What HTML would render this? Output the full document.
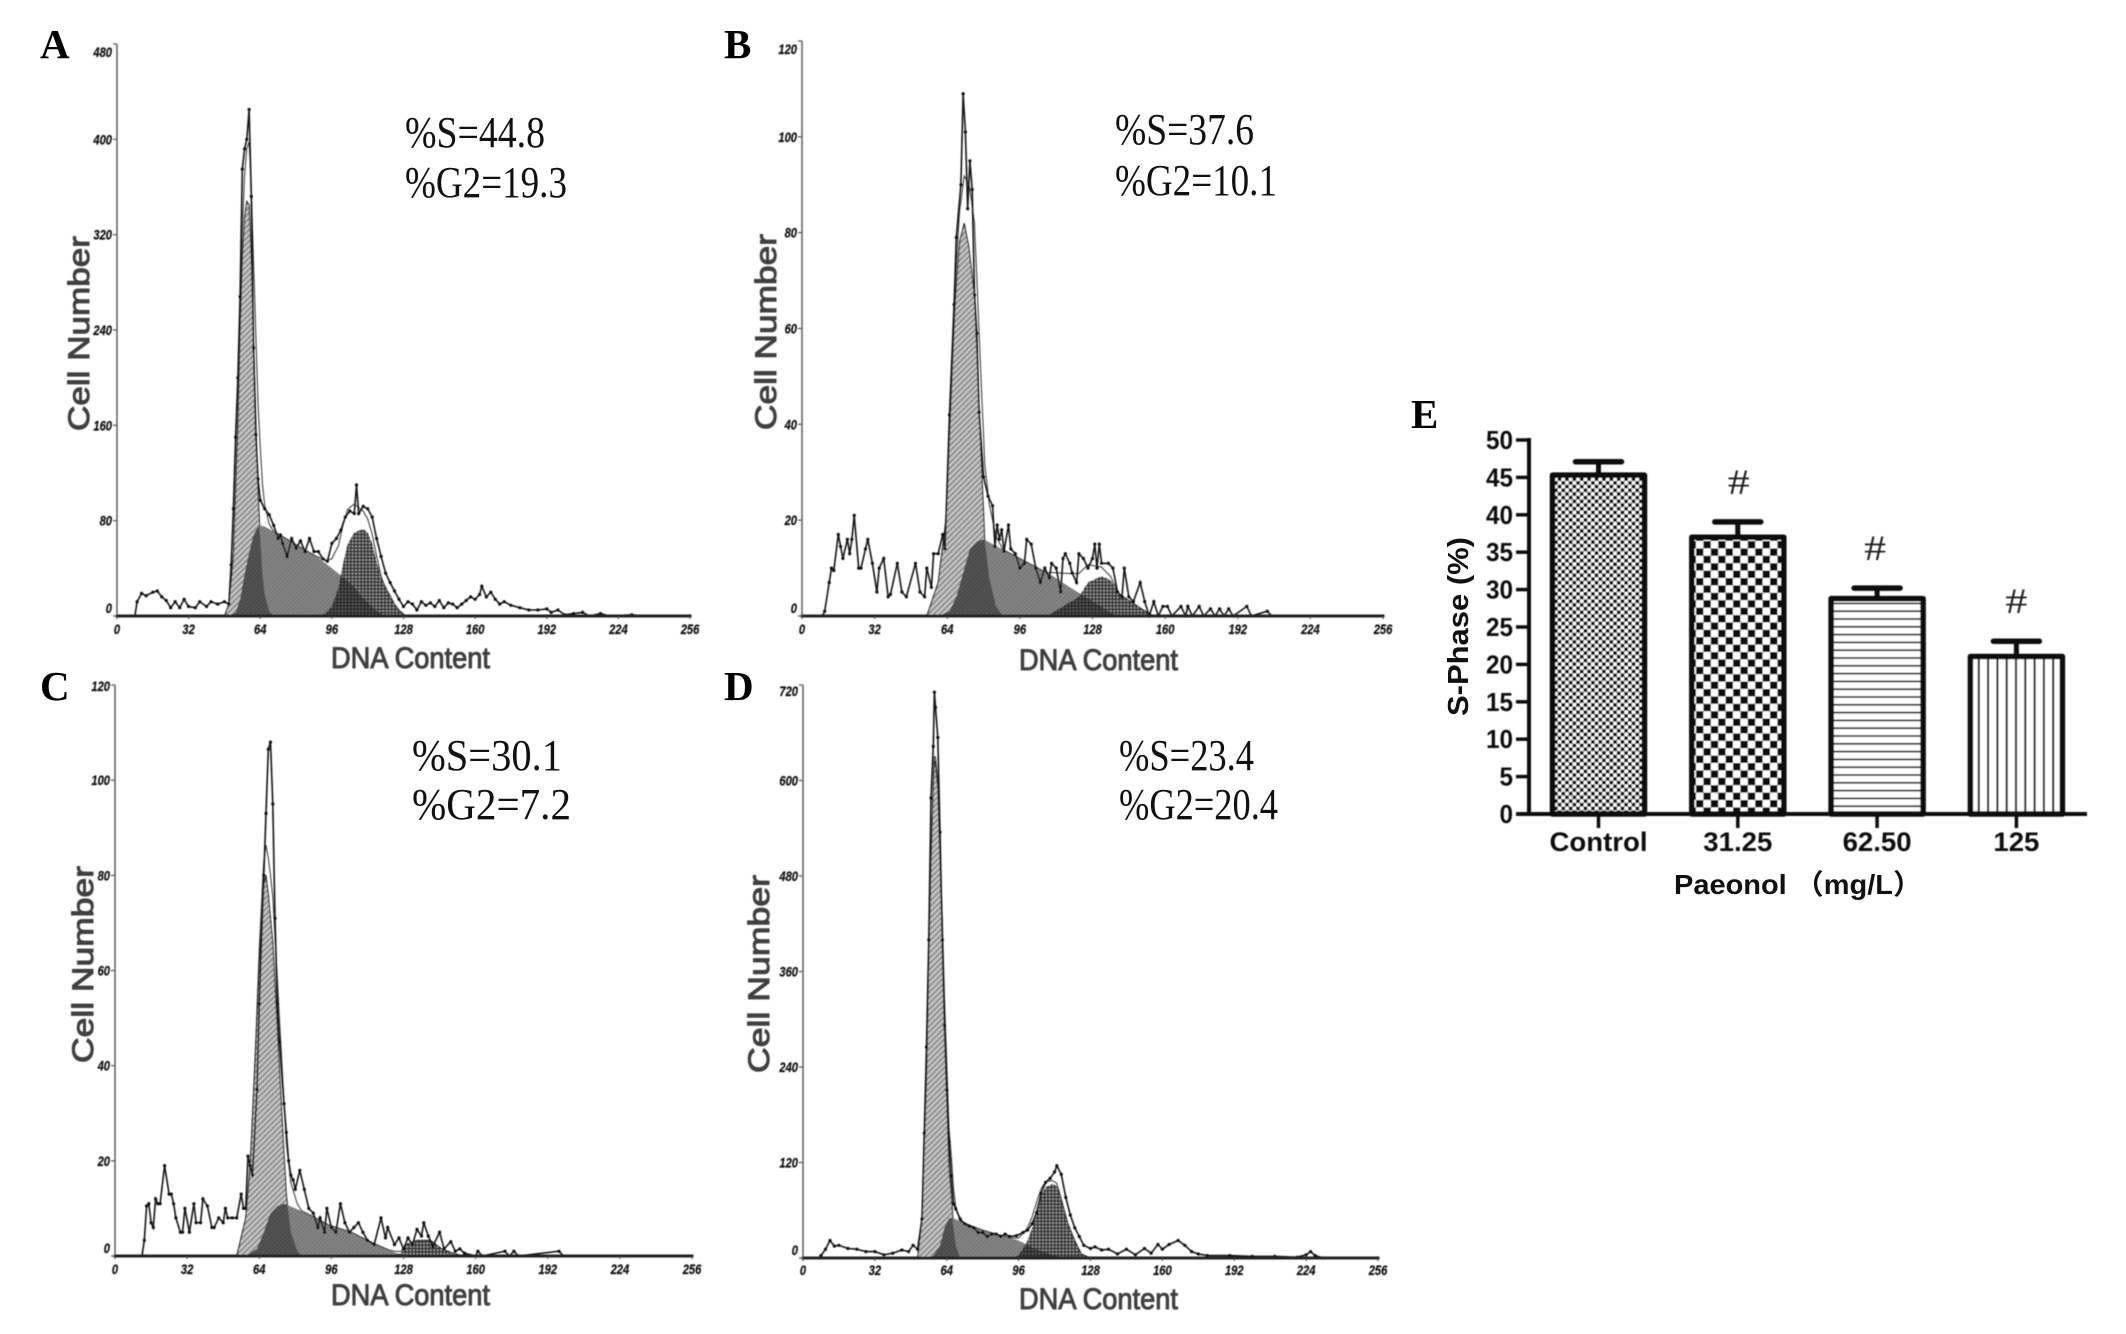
<!DOCTYPE html>
<html lang="en">
<head>
<meta charset="utf-8">
<title>Cell cycle histograms and S-phase bar chart</title>
<style>
html,body{margin:0;padding:0;background:#fff;}
svg{display:block;}
.serif{font-family:"Liberation Serif",serif;fill:#222;}
.letter{font-family:"Liberation Serif",serif;font-weight:bold;font-size:41px;fill:#000;}
.note{font-family:"Liberation Serif",serif;font-size:44px;fill:#111;}
.axis-title{font-family:"Liberation Sans",sans-serif;font-size:30px;fill:#3f3f3f;stroke:#3f3f3f;stroke-width:1px;}
.tick{font-family:"Liberation Sans",sans-serif;font-size:14px;font-weight:bold;font-style:italic;fill:#111;stroke:#111;stroke-width:.25px;}
.bar-text{font-family:"Liberation Sans","Noto Sans CJK SC",sans-serif;font-weight:bold;fill:#111;}
</style>
</head>
<body>
<svg id="figure" xmlns="http://www.w3.org/2000/svg" width="2126" height="1334" viewBox="0 0 2126 1334">
  <defs>
    <filter id="soft" x="-5%" y="-5%" width="110%" height="110%"><feGaussianBlur stdDeviation="0.55"/></filter>
    <filter id="softbar" x="-5%" y="-5%" width="110%" height="110%"><feGaussianBlur stdDeviation="0.4"/></filter>
    <pattern id="g1Fill" width="4" height="4" patternUnits="userSpaceOnUse" patternTransform="rotate(-45)">
      <rect width="4" height="4" fill="#949494"/><rect width="4" height="1.3" fill="#dcdcdc"/>
    </pattern>
    <pattern id="sFill" width="3" height="3" patternUnits="userSpaceOnUse" patternTransform="rotate(-45)">
      <rect width="3" height="3" fill="#777"/><rect width="3" height="1" fill="#8e8e8e"/>
    </pattern>
    <pattern id="g2Fill" width="3.4" height="3.4" patternUnits="userSpaceOnUse">
      <rect width="3.4" height="3.4" fill="#9a9a9a"/><rect width="3.4" height="1.4" fill="#2c2c2c"/><rect width="1.4" height="3.4" fill="#2c2c2c"/>
    </pattern>
    <pattern id="darkFill" width="3" height="3" patternUnits="userSpaceOnUse" patternTransform="rotate(-45)">
      <rect width="3" height="3" fill="#474747"/><rect width="3" height="1" fill="#5e5e5e"/>
    </pattern>
    <pattern id="darkGrid" width="3.4" height="3.4" patternUnits="userSpaceOnUse">
      <rect width="3.4" height="3.4" fill="#5a5a5a"/><rect width="3.4" height="1.3" fill="#222"/><rect width="1.3" height="3.4" fill="#222"/>
    </pattern>
    <pattern id="barFine" width="7.4" height="7.4" patternUnits="userSpaceOnUse">
      <rect width="7.4" height="7.4" fill="#fff"/><rect width="3.7" height="3.7" fill="#111"/><rect x="3.7" y="3.7" width="3.7" height="3.7" fill="#111"/>
    </pattern>
    <pattern id="barCheck" width="14.8" height="14.8" patternUnits="userSpaceOnUse" x="1696" y="541">
      <rect width="14.8" height="14.8" fill="#fff"/><rect x="7.4" width="7.4" height="7.4" fill="#111"/><rect y="7.4" width="7.4" height="7.4" fill="#111"/>
    </pattern>
    <pattern id="barHoriz" width="10" height="7.8" patternUnits="userSpaceOnUse" y="600">
      <rect width="10" height="7.8" fill="#fff"/><rect y="2.6" width="10" height="1.6" fill="#111"/>
    </pattern>
    <pattern id="barVert" width="9.3" height="10" patternUnits="userSpaceOnUse" x="1973">
      <rect width="9.3" height="10" fill="#fff"/><rect x="4.8" width="2" height="10" fill="#111"/>
    </pattern>
  </defs>

  <g id="histograms"></g>
  <g id="barchart" filter="url(#softbar)"></g>

  <text class="letter" x="40" y="58">A</text>
  <text class="letter" x="724" y="58">B</text>
  <text class="letter" x="40" y="700">C</text>
  <text class="letter" x="724" y="700">D</text>
  <text class="letter" x="1411" y="428">E</text>

  <text class="note" x="405" y="147" textLength="140" lengthAdjust="spacingAndGlyphs">%S=44.8</text>
  <text class="note" x="405" y="197" textLength="162" lengthAdjust="spacingAndGlyphs">%G2=19.3</text>
  <text class="note" x="1115" y="144" textLength="139" lengthAdjust="spacingAndGlyphs">%S=37.6</text>
  <text class="note" x="1115" y="195" textLength="162" lengthAdjust="spacingAndGlyphs">%G2=10.1</text>
  <text class="note" x="412" y="770" textLength="150" lengthAdjust="spacingAndGlyphs">%S=30.1</text>
  <text class="note" x="412" y="819" textLength="159" lengthAdjust="spacingAndGlyphs">%G2=7.2</text>
  <text class="note" x="1119" y="770" textLength="135" lengthAdjust="spacingAndGlyphs">%S=23.4</text>
  <text class="note" x="1119" y="819" textLength="159" lengthAdjust="spacingAndGlyphs">%G2=20.4</text>

  <g filter="url(#soft)">
    <text class="axis-title" transform="translate(89 431) rotate(-90)" textLength="195" lengthAdjust="spacingAndGlyphs">Cell Number</text>
    <text class="axis-title" transform="translate(776 430) rotate(-90)" textLength="196" lengthAdjust="spacingAndGlyphs">Cell Number</text>
    <text class="axis-title" transform="translate(93 1063) rotate(-90)" textLength="197" lengthAdjust="spacingAndGlyphs">Cell Number</text>
    <text class="axis-title" transform="translate(769 1073) rotate(-90)" textLength="198" lengthAdjust="spacingAndGlyphs">Cell Number</text>
    <text class="axis-title" x="331" y="668" textLength="159" lengthAdjust="spacingAndGlyphs">DNA Content</text>
    <text class="axis-title" x="1019" y="670" textLength="159" lengthAdjust="spacingAndGlyphs">DNA Content</text>
    <text class="axis-title" x="331" y="1305" textLength="159" lengthAdjust="spacingAndGlyphs">DNA Content</text>
    <text class="axis-title" x="1019" y="1309" textLength="159" lengthAdjust="spacingAndGlyphs">DNA Content</text>
  </g>

  <text class="bar-text" transform="translate(1468 716) rotate(-90)" font-size="29" textLength="179" lengthAdjust="spacingAndGlyphs">S-Phase (%)</text>
  <text class="bar-text" x="1674" y="894" font-size="28" textLength="248" lengthAdjust="spacingAndGlyphs">Paeonol （mg/L）</text>
</svg>

<script>
// ---------- Histogram data: [channel, cell count] ----------
const xTickLabels = [0, 32, 64, 96, 128, 160, 192, 224, 256];
const yTicksA = [0, 80, 160, 240, 320, 400, 480];
const yTicksB = [0, 20, 40, 60, 80, 100, 120];
const yTicksC = [0, 20, 40, 60, 80, 100, 120];
const yTicksD = [0, 120, 240, 360, 480, 600, 720];

const histA = [[0,0],[8,0],[9,12],[11,19],[13,17],[16,20],[18,21],[20,16],[22,13],[24,7],[26,12],[28,7],[30,14],[32,8],[35,7],[37,12],[40,8],[42,12],[45,10],[48,12],[50,10],[51,43],[52,90],[53,150],[54,200],[55,268],[56,375],[57,392],[58,400],[59,425],[60,352],[61,225],[62,152],[63,115],[64,97],[66,90],[68,85],[70,76],[72,65],[73,68],[74,61],[76,50],[78,65],[80,57],[82,63],[84,54],[86,65],[88,54],[90,54],[92,48],[94,46],[96,61],[98,65],[100,72],[102,83],[104,88],[106,86],[107,110],[108,86],[110,92],[112,90],[114,83],[116,65],[118,50],[120,36],[122,28],[124,21],[126,14],[128,8],[130,12],[132,10],[134,5],[136,12],[138,9],[140,11],[142,8],[144,13],[146,7],[148,11],[150,10],[152,7],[154,10],[156,13],[158,16],[160,14],[162,18],[163,25],[165,16],[167,20],[169,14],[171,10],[173,12],[176,9],[180,7],[184,5],[188,5],[192,6],[194,3],[197,5],[200,1],[204,2],[208,3],[211,0],[216,2],[220,0],[230,1],[235,0],[256,0]];
const g1A = [[48,0],[50,10],[52,50],[54,160],[55,240],[56,300],[57,335],[58,348],[59,345],[60,300],[61,230],[62,165],[63,105],[64,65],[65,35],[66,18],[68,4],[70,0]];
const sA = [[50,0],[53,3],[55,14],[57,35],[59,53],[61,68],[63,75],[64,76],[66,75],[72,69],[80,60],[90,49],[100,34],[105,26],[110,15],[115,6],[119,0]];
const g2A = [[89,0],[93,2],[96,8],[99,24],[101,44],[103,60],[106,70],[110,73],[112,70],[114,61],[116,46],[118,32],[120,24],[122,17],[124,10],[126,5],[129,0]];

const histB = [[0,0],[9,0],[10,1],[12,7],[13,10],[14,9.5],[16,17],[17,14.5],[18,12],[20,16],[21,13],[22,16],[23,21],[25,10],[26,10],[28,14],[29,16],[31,11],[33,5],[34,10],[36,12],[38,4],[39,4.5],[42,11],[44,5],[46,4],[50,11],[52,5],[54,4],[55,10],[57,6],[58,13],[60,13],[62,17],[63,14],[65,42],[67,65],[68,79],[70,90],[71,109],[72,101],[73,85],[74,95],[75,89],[76,67],[77,59],[78,42.5],[80,29],[82,25],[84,23],[85,14.5],[86,19],[87,16],[88,18],[89,13.5],[91,19],[92,14],[94,13],[96,10],[98,11],[99,16],[101,15],[103,10],[105,7],[107,10],[109,8],[110,11],[112,10],[114,5],[115,12],[116,13],[118,11],[119,9],[121,7],[122,13],[124,12],[126,10],[128,12],[129,15],[130,10],[131,15],[132,11],[135,11],[137,10],[139,5],[141,4],[142,10],[144,4],[146,3],[149,7],[151,3],[153,0],[155,3],[157,0],[159,2],[161,2],[163,0],[167,2],[169,0],[170,2],[172,0],[175,2],[177,0],[180,1.5],[182,0],[184,1.5],[186,0],[188,1.5],[190,0],[196,2],[198,0],[205,1],[207,0],[256,0]];
const g1B = [[55,0],[60,7],[63.5,20],[65.4,42.5],[67.4,65],[69.4,78],[71.5,82],[73.5,77],[76,67],[78.5,38],[80.5,16],[82.5,8],[85.5,2],[88.5,0]];
const sB = [[60,0],[65,1],[68,4],[71,9],[74,14],[77,15.5],[80,16],[90,13.5],[100,11],[110,8.5],[118,6],[125,4],[130,2.5],[135,1],[139,0]];
const g2B = [[108,0],[115,2],[122,4],[126,7],[132,8.3],[136,7.5],[140,4.5],[145,3],[150,1.4],[155,0]];

const histC = [[0,0],[12,0],[13,3.3],[14,10.5],[15,11],[16,7],[17,6],[18,12],[19,11],[20,11],[22,19],[24,13],[25,13],[26,11],[27,8],[29,5],[30,5],[31,10],[33,5],[35,11],[36,7],[38,7],[39,12],[41,10.5],[43,6],[44,6],[46,8],[48,7],[49,10],[50,8],[52,8],[54,8],[56,13],[57,10],[58,10],[59,21],[60,19],[61,17],[63,35],[64,53],[66,80],[67,93],[68,106.5],[69,108],[70,95],[71,71],[72,53],[73,45],[75,32],[76,26],[77,20],[78,17],[79,16],[80,14],[82,18],[84,14],[86,10],[88,9],[90,6],[91,8],[93,5],[94,10],[96,6],[98,5],[100,11],[102,7],[104,5],[106,6],[108,7],[110,5],[112,3.3],[115,2.4],[118,8],[120,3.8],[121,6],[124,2.4],[126,3.8],[128,1.5],[130,3.8],[132,2.4],[134,5.6],[136,4.2],[137,7],[139,4.2],[141,2],[144,5],[146,1.5],[149,3],[151,1],[153,1.5],[155,0.6],[160,0],[161,1],[163,0],[173,1],[175,0],[177,1],[179,0],[197,1],[199,0],[256,0]];
const g1C = [[54,0],[58,8],[60,19],[62,39],[64,62],[66,78],[67,80],[68,76],[70,66],[72,48],[74,30],[76,13],[78,5],[81,1],[83,0]];
const sC = [[58,0],[63,1.5],[66,5],[69,9],[72,10.5],[75,11],[85,9],[95,6.5],[105,5],[112,3.3],[118,2],[125,0.6],[130,0]];
const g2C = [[122,0],[127,0.6],[129,2.4],[134,3.3],[140,3.3],[145,1.5],[150,0.6],[155,0]];

const histD = [[0,0],[7,0],[8,3],[10,11],[12,22],[14,15],[16,16],[20,12],[24,11],[28,8],[32,8],[36,4],[40,6],[44,10],[47,8],[49,16],[51,11],[53,49],[54,157],[55,265],[56,400],[57,578],[58,643],[58.5,711],[59,692],[60,654],[61,535],[62,400],[63,292],[64,211],[65,146],[66,103],[67,68],[68,62],[70,49],[72,43],[74,40],[76,38],[78,32],[80,32],[82,27],[84,30],[86,30],[88,27],[90,30],[92,27],[95,28],[98,32],[100,35],[102,43],[104,57],[106,81],[108,95],[110,100],[112,108],[113,116],[115,105],[117,76],[119,54],[121,38],[123,27],[125,16],[128,12],[130,14],[133,10],[136,11],[140,5],[144,11],[148,4],[152,12],[155,6],[158,17],[160,11],[163,17],[167,22],[170,16],[173,8],[176,5],[180,3],[190,3],[200,2],[210,2],[220,1],[224,4],[226,8],[228,3],[232,0],[256,0]];
const g1D = [[51,0],[53,49],[54,140],[55,230],[56,380],[57,500],[58,595],[58.5,625],[59,622],[60,590],[61,500],[62,400],[63,290],[64,200],[65,113],[66,80],[67,38],[68,16],[70,0]];
const sD = [[56,0],[58,3],[61,16],[63,38],[65,50],[67,50],[70,46],[80,35],[90,27],[96,22],[100,16],[105,10],[110,5],[117,0]];
const g2D = [[92,0],[96,3],[100,22],[102,38],[104,59],[106,78],[108,89],[111,93],[113,91],[115,73],[118,43],[121,22],[124,5],[128,0]];

// ---------- Bar chart data ----------
const barCategories = ['Control', '31.25', '62.50', '125'];
const barValues = [45.3, 37, 28.8, 21.05];
const barErrors = [1.8, 2.05, 1.4, 2.05];
const barSignificance = ['', '#', '#', '#'];
const barYTicks = [0, 5, 10, 15, 20, 25, 30, 35, 40, 45, 50];

// ---------- Rendering ----------
const NS = 'http://www.w3.org/2000/svg';
const histRoot = document.getElementById('histograms');
const barRoot = document.getElementById('barchart');

function mk(tag, parent, attrs) {
  const el = document.createElementNS(NS, tag);
  for (const k in attrs) el.setAttribute(k, attrs[k]);
  parent.appendChild(el);
  return el;
}

function valueAt(series, ch) {
  if (ch <= series[0][0] || ch >= series[series.length - 1][0]) return 0;
  for (let i = 1; i < series.length; i++) {
    if (ch <= series[i][0]) {
      const a = series[i - 1], b = series[i];
      return a[1] + (b[1] - a[1]) * (ch - a[0]) / (b[0] - a[0]);
    }
  }
  return 0;
}

function drawPanel(key, frame, hist, g1, s, g2, yTicks) {
  const xScale = ch => frame.x0 + (frame.x1 - frame.x0) * ch / 256;
  const yMax = yTicks[yTicks.length - 1];
  const yScale = v => frame.base - (frame.base - frame.top) * v / yMax;

  const grid = [];
  for (let c = 44; c <= 160; c += 0.5) grid.push(c);
  const areaPath = fn => {
    let d = 'M' + xScale(grid[0]).toFixed(1) + ' ' + frame.base;
    for (const c of grid) d += 'L' + xScale(c).toFixed(1) + ' ' + yScale(fn(c)).toFixed(1);
    return d + 'L' + xScale(grid[grid.length - 1]).toFixed(1) + ' ' + frame.base + 'Z';
  };

  const panel = mk('g', histRoot, { filter: 'url(#soft)' });
  
  

  const g1Area = mk('path', panel, { d: areaPath(c => valueAt(g1, c)), fill: 'url(#g1Fill)', stroke: '#222', 'stroke-width': 1.1 });
  
  

  const sArea = mk('path', panel, { d: areaPath(c => valueAt(s, c)), fill: 'url(#sFill)' });
  
  

  const g2Area = mk('path', panel, { d: areaPath(c => valueAt(g2, c)), fill: 'url(#g2Fill)' });
  
  

  const g1Overlap = mk('path', panel, { d: areaPath(c => Math.min(valueAt(g1, c), valueAt(s, c))), fill: 'url(#darkFill)' });
  
  

  const g2Overlap = mk('path', panel, { d: areaPath(c => Math.min(valueAt(g2, c), valueAt(s, c))), fill: 'url(#darkGrid)' });
  
  

  // Fitted sum envelope
  let fitD = '';
  grid.forEach((c, i) => {
    const v = valueAt(g1, c) + valueAt(s, c) + valueAt(g2, c);
    fitD += (i ? 'L' : 'M') + xScale(c).toFixed(1) + ' ' + yScale(v).toFixed(1);
  });
  const fit = mk('path', panel, { d: fitD, fill: 'none', stroke: '#333', 'stroke-width': 1 });
  
  

  // Measured histogram with point markers
  const histD = hist.map((p, i) => (i ? 'L' : 'M') + xScale(p[0]).toFixed(1) + ' ' + yScale(p[1]).toFixed(1)).join('');
  const line = mk('path', panel, { d: histD, fill: 'none', stroke: '#161616', 'stroke-width': 1.6 });
  
  
  for (const p of hist) {
    const dot = mk('circle', panel, { cx: xScale(p[0]).toFixed(1), cy: yScale(p[1]).toFixed(1), r: 1.6, fill: '#111' });
    
    
  }

  // Axes
  const yAxis = mk('line', panel, { x1: frame.x0, x2: frame.x0, y1: frame.top, y2: frame.base, stroke: '#666', 'stroke-width': 1.6 });
  
  
  const xAxis = mk('line', panel, { x1: frame.x0, x2: frame.x1, y1: frame.base, y2: frame.base, stroke: '#222', 'stroke-width': 3 });
  
  

  yTicks.forEach((v, i) => {
    const y = yScale(v);
    const tick = mk('line', panel, { x1: frame.x0 - 4, x2: frame.x0, y1: y, y2: y, stroke: '#555', 'stroke-width': 1.2 });
    
    
    const shift = i === 0 ? -3 : (i === yTicks.length - 1 ? frame.topShift : 5);
    const t = String(v);
    const label = mk('text', panel, { x: frame.x0 - 5, y: y + shift, class: 'tick', 'text-anchor': 'end', textLength: t.length * 6.2, lengthAdjust: 'spacingAndGlyphs' });
    label.textContent = t;
    
    
  });
  xTickLabels.forEach(v => {
    const x = xScale(v);
    const tick = mk('line', panel, { x1: x, x2: x, y1: frame.base, y2: frame.base + 3, stroke: '#444', 'stroke-width': 1.1 });
    
    
    const t = String(v);
    const label = mk('text', panel, { x: x, y: frame.labelY, class: 'tick', 'text-anchor': 'middle', textLength: t.length * 6.2, lengthAdjust: 'spacingAndGlyphs' });
    label.textContent = t;
    
    
  });
}

drawPanel('a', { x0: 117, x1: 690, base: 616, top: 44, labelY: 634, topShift: 13 }, histA, g1A, sA, g2A, yTicksA);
drawPanel('b', { x0: 802, x1: 1383, base: 616, top: 41, labelY: 634, topShift: 13 }, histB, g1B, sB, g2B, yTicksB);
drawPanel('c', { x0: 115, x1: 692, base: 1256, top: 685, labelY: 1274, topShift: 6 }, histC, g1C, sC, g2C, yTicksC);
drawPanel('d', { x0: 803, x1: 1378, base: 1258, top: 685, labelY: 1275, topShift: 11 }, histD, g1D, sD, g2D, yTicksD);

// ---------- Bar chart ----------
const barFills = ['url(#barFine)', 'url(#barCheck)', 'url(#barHoriz)', 'url(#barVert)'];
const barBase = 814;
const barY = v => barBase - v * 7.48;
const barX = i => 1598.5 + i * 139.3;
const barHalf = 46;

barValues.forEach((v, i) => {
  const cx = barX(i);
  const top = barY(v);
  const bar = mk('rect', barRoot, { x: cx - barHalf, y: top, width: barHalf * 2, height: barBase - top, fill: barFills[i], stroke: '#111', 'stroke-width': 5.5, 'stroke-linejoin': 'round' });
  
  

  const errTop = barY(v + barErrors[i]);
  const stem = mk('line', barRoot, { x1: cx, x2: cx, y1: top, y2: errTop, stroke: '#111', 'stroke-width': 5 });
  
  
  const cap = mk('line', barRoot, { x1: cx - 23, x2: cx + 23, y1: errTop, y2: errTop, stroke: '#111', 'stroke-width': 5.5, 'stroke-linecap': 'round' });
  
  

  const tick = mk('line', barRoot, { x1: cx, x2: cx, y1: barBase, y2: barBase + 14, stroke: '#111', 'stroke-width': 3.5 });
  
  

  const lengths = [98, 69, 69, 46];
  const label = mk('text', barRoot, { x: cx, y: 851, class: 'bar-text', 'font-size': 27, 'text-anchor': 'middle', textLength: lengths[i], lengthAdjust: 'spacingAndGlyphs' });
  label.textContent = barCategories[i];
  
  

  if (barSignificance[i]) {
    const markShift = [0, 1, -2, 0][i];
    const mark = mk('text', barRoot, { x: cx + markShift, y: errTop - 28, class: 'serif', 'font-size': 36, 'text-anchor': 'middle', textLength: 22, lengthAdjust: 'spacingAndGlyphs' });
    mark.textContent = barSignificance[i];
    
    
  }
});

const barAxisY = mk('line', barRoot, { x1: 1529, x2: 1529, y1: barY(50) - 2, y2: barBase + 2, stroke: '#111', 'stroke-width': 4 });


const barAxisX = mk('line', barRoot, { x1: 1516, x2: 2087, y1: barBase, y2: barBase, stroke: '#111', 'stroke-width': 4 });



barYTicks.forEach(v => {
  const y = barY(v);
  const tick = mk('line', barRoot, { x1: 1516, x2: 1529, y1: y, y2: y, stroke: '#111', 'stroke-width': 3.5 });
  
  
  const t = String(v);
  const label = mk('text', barRoot, { x: 1513, y: y + 9, class: 'bar-text', 'font-size': 26, 'text-anchor': 'end', textLength: t.length * 13.5, lengthAdjust: 'spacingAndGlyphs' });
  label.textContent = t;
  
  
});
</script>
</body>
</html>
